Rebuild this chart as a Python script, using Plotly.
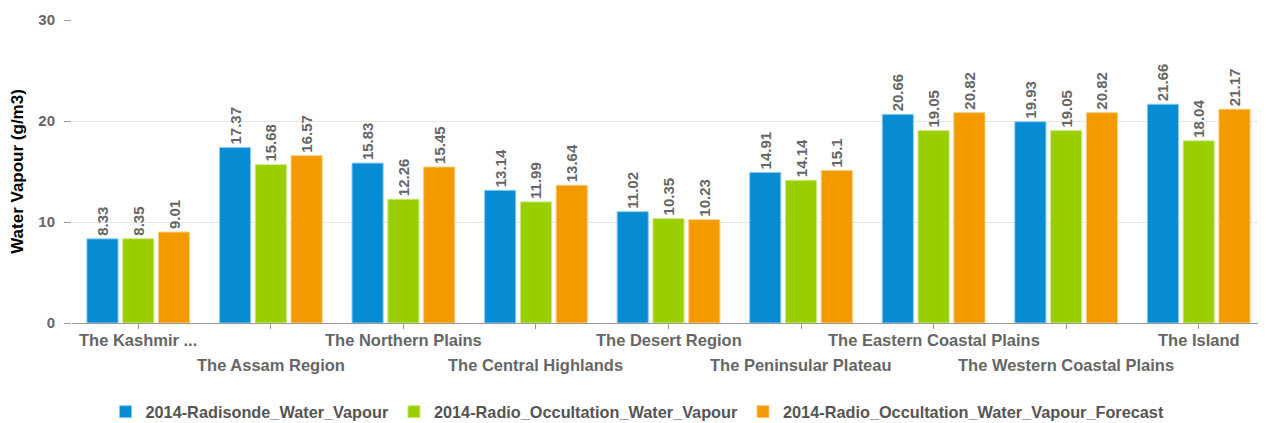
import plotly.graph_objects as go

categories = ["The Kashmir ...", "The Assam Region", "The Northern Plains", "The Central Highlands",
              "The Desert Region", "The Peninsular Plateau", "The Eastern Coastal Plains",
              "The Western Coastal Plains", "The Island"]
radisonde = [8.33, 17.37, 15.83, 13.14, 11.02, 14.91, 20.66, 19.93, 21.66]
occultation = [8.35, 15.68, 12.26, 11.99, 10.35, 14.14, 19.05, 19.05, 18.04]
forecast = [9.01, 16.57, 15.45, 13.64, 10.23, 15.1, 20.82, 20.82, 21.17]
series_names = ["2014-Radisonde_Water_Vapour", "2014-Radio_Occultation_Water_Vapour",
                "2014-Radio_Occultation_Water_Vapour_Forecast"]
colors = ["#078BD2", "#99CF00", "#F39A00"]
edge_colors = ["#8CCBF0", "#CDE88A", "#F8CC80"]
y_ticks = [0, 10, 20, 30]

FONT = "Liberation Sans, Arial, sans-serif"

fig = go.Figure()
for name, vals, c, ec in zip(series_names, [radisonde, occultation, forecast], colors, edge_colors):
    fig.add_trace(go.Bar(
        x=categories, y=vals, name=name,
        marker=dict(color=c, line=dict(color=ec, width=1)),
        text=[f"{v:g}" for v in vals], textposition="outside", textangle=-90,
        constraintext="none",
        textfont=dict(family=FONT, size=15, color="#666666", weight="bold"),
        cliponaxis=False,
    ))

for i, cat in enumerate(categories):
    fig.add_annotation(x=cat, xref="x", y=0, yref="paper", yanchor="middle",
                       yshift=-17 if i % 2 == 0 else -42, showarrow=False, text=cat,
                       font=dict(family=FONT, size=16.5, color="#666666", weight="bold"))

fig.update_layout(
    width=1258, height=415,
    margin=dict(l=64, r=1, t=12, b=100, autoexpand=False),
    plot_bgcolor="white", paper_bgcolor="white",
    barmode="group", bargap=0.19, bargroupgap=0.13,
    showlegend=True,
    legend=dict(orientation="h", x=0.474, xanchor="center", y=-0.294, yanchor="middle",
                font=dict(family=FONT, size=16.3, color="#555555", weight="bold"),
                traceorder="normal"),
    xaxis=dict(showticklabels=False, ticks="outside", ticklen=5, tickcolor="#999999",
               showline=True, linecolor="#999999", linewidth=1, showgrid=False,
               automargin=False),
    yaxis=dict(range=[0, 30], tickvals=y_ticks, ticks="outside", ticklen=7, tickcolor="#999999",
               ticklabelstandoff=6, automargin=False,
               tickfont=dict(family=FONT, size=15, color="#666666", weight="bold"),
               showgrid=True, gridcolor="#E6E6E6", zeroline=False, showline=False,
               title=dict(text="Water Vapour (g/m3)", standoff=10,
                          font=dict(family=FONT, size=17, color="#000000", weight="bold"))),
)

fig.write_html("out.html")
